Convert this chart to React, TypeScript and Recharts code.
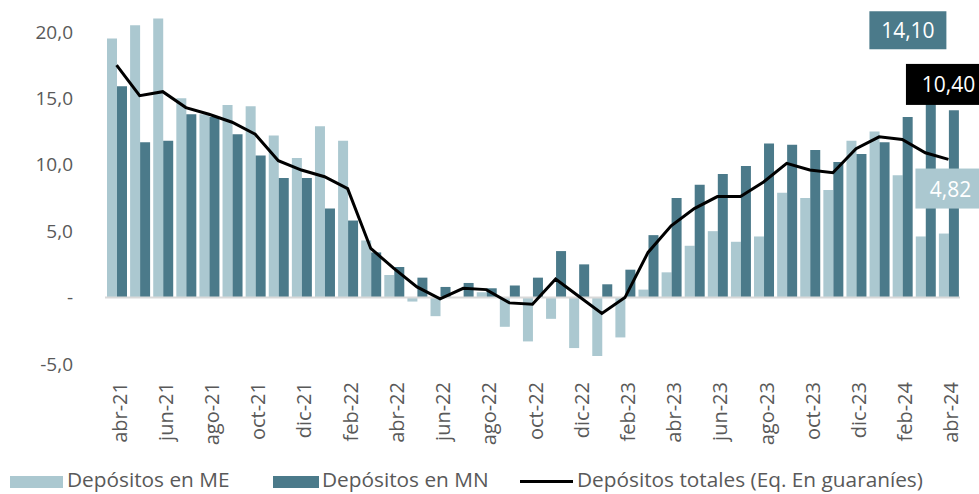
import React from "react";
import {
  ComposedChart,
  Bar,
  Line,
  XAxis,
  YAxis,
  ReferenceLine,
  LabelList,
  Legend,
} from "recharts";

const months = [
  "abr-21", "may-21", "jun-21", "jul-21", "ago-21", "sep-21", "oct-21", "nov-21", "dic-21",
  "ene-22", "feb-22", "mar-22", "abr-22", "may-22", "jun-22", "jul-22", "ago-22", "sep-22",
  "oct-22", "nov-22", "dic-22", "ene-23", "feb-23", "mar-23", "abr-23", "may-23", "jun-23",
  "jul-23", "ago-23", "sep-23", "oct-23", "nov-23", "dic-23", "ene-24", "feb-24", "mar-24",
  "abr-24",
];

// Depósitos en moneda extranjera
const depME = [
  19.5, 20.5, 21.0, 15.0, 13.8, 14.5, 14.4, 12.2, 10.5, 12.9, 11.8, 4.3, 1.7, -0.3, -1.4, 0.0,
  0.4, -2.2, -3.3, -1.6, -3.8, -4.4, -3.0, 0.6, 1.9, 3.9, 5.0, 4.2, 4.6, 7.9, 7.5, 8.1, 11.8,
  12.5, 9.2, 4.6, 4.82,
];

// Depósitos en moneda nacional
const depMN = [
  15.9, 11.7, 11.8, 13.8, 13.6, 12.3, 10.7, 9.0, 9.0, 6.7, 5.8, 3.4, 2.3, 1.5, 0.8, 1.1, 0.7,
  0.9, 1.5, 3.5, 2.5, 1.0, 2.1, 4.7, 7.5, 8.5, 9.3, 9.9, 11.6, 11.5, 11.1, 10.2, 10.8, 11.7,
  13.6, 15.2, 14.1,
];

// Depósitos totales (Eq. En guaraníes)
const depTotal = [
  17.5, 15.2, 15.5, 14.3, 13.8, 13.2, 12.3, 10.3, 9.6, 9.1, 8.2, 3.7, 2.2, 0.8, -0.1, 0.7, 0.6,
  -0.4, -0.5, 1.4, 0.1, -1.2, 0.0, 3.4, 5.4, 6.7, 7.6, 7.6, 8.7, 10.1, 9.6, 9.4, 11.2, 12.1,
  11.9, 10.9, 10.4,
];

const yTicks = [-5, 0, 5, 10, 15, 20];

const COLORS = {
  me: "#abc8d0",
  mn: "#4b7a8a",
  total: "#000000",
  text: "#595959",
};

const FONT = "'Open Sans', sans-serif";
const LAST = months.length - 1;

const data = months.map((m, i) => ({
  mes: m,
  me: depME[i],
  mn: depMN[i],
  total: depTotal[i],
}));

const fmt = (v: number) => (v === 0 ? "-" : v.toFixed(1).replace(".", ","));
const fmt2 = (v: number) => v.toFixed(2).replace(".", ",");

// box label only on the last point
const boxLabel =
  (fill: string, w: number, h: number, dx: number, dy: number) => (props: any) => {
    const { x, y, width, value, index } = props;
    if (index !== LAST) return null;
    const cx = Number(x) + (width ? Number(width) / 2 : 0) + dx;
    const cy = Number(y) + dy;
    return (
      <g>
        <rect x={cx - w / 2} y={cy - h / 2} width={w} height={h} fill={fill} />
        <text
          x={cx}
          y={cy}
          fill="#ffffff"
          fontSize={21}
          fontFamily={FONT}
          textAnchor="middle"
          dominantBaseline="central"
        >
          {fmt2(Number(value))}
        </text>
      </g>
    );
  };

// rotated month labels
const MonthTick = (props: any) => {
  const { x, y, payload } = props;
  const tx = x + 10;
  const ty = y + 10;
  return (
    <text
      x={tx}
      y={ty}
      transform={`rotate(-90, ${tx}, ${ty})`}
      textAnchor="end"
      fontSize={20}
      fill={COLORS.text}
      fontFamily={FONT}
    >
      {payload.value}
    </text>
  );
};

const CustomLegend = () => (
  <div style={{ position: "relative", height: 30, fontFamily: FONT, fontSize: 20.8, color: COLORS.text }}>
    <div style={{ position: "absolute", left: 10, top: 12, width: 53, height: 12, background: COLORS.me }} />
    <div style={{ position: "absolute", left: 67, top: 1, whiteSpace: "nowrap" }}>Depósitos en ME</div>
    <div style={{ position: "absolute", left: 273, top: 12, width: 46, height: 12, background: COLORS.mn }} />
    <div style={{ position: "absolute", left: 322, top: 1, whiteSpace: "nowrap" }}>Depósitos en MN</div>
    <div style={{ position: "absolute", left: 520, top: 16, width: 53, height: 3, background: COLORS.total }} />
    <div style={{ position: "absolute", left: 577, top: 1, whiteSpace: "nowrap" }}>
      Depósitos totales (Eq. En guaraníes)
    </div>
  </div>
);

export default function App() {
  return (
    <div style={{ position: "fixed", left: 0, top: 0, width: 979, height: 494, background: "#fff" }}>
      <ComposedChart
        width={979}
        height={494}
        data={data}
        margin={{ top: 0, right: 19, bottom: 0, left: 0 }}
        barCategoryGap={2}
        barGap={0}
      >
        <XAxis
          dataKey="mes"
          interval={1}
          axisLine={false}
          tickLine={false}
          height={100}
          tick={<MonthTick />}
        />
        <YAxis
          domain={[-5, 22.4]}
          ticks={yTicks}
          allowDataOverflow
          width={105}
          axisLine={false}
          tickLine={false}
          tickMargin={26}
          tickFormatter={fmt}
          tick={{ fontSize: 19, fill: COLORS.text, fontFamily: FONT }}
        />
        <Legend verticalAlign="bottom" height={30} content={<CustomLegend />} />
        <ReferenceLine y={0} stroke="#d9d9d9" strokeWidth={2} />
        <Bar dataKey="me" name="Depósitos en ME" fill={COLORS.me} isAnimationActive={false} />
        <Bar dataKey="mn" name="Depósitos en MN" fill={COLORS.mn} isAnimationActive={false}>
          <LabelList dataKey="mn" content={boxLabel(COLORS.mn, 77, 38, -46, -80)} />
        </Bar>
        <Line
          type="linear"
          dataKey="total"
          name="Depósitos totales (Eq. En guaraníes)"
          stroke={COLORS.total}
          strokeWidth={3}
          dot={false}
          isAnimationActive={false}
        >
          <LabelList dataKey="total" content={boxLabel(COLORS.total, 85, 41, 0, -75)} />
        </Line>
        {/* invisible carrier so the ME label sits above the MN bars */}
        <Line
          type="linear"
          dataKey="me"
          legendType="none"
          stroke="none"
          dot={false}
          activeDot={false}
          isAnimationActive={false}
        >
          <LabelList dataKey="me" content={boxLabel(COLORS.me, 70, 40, 2, -45)} />
        </Line>
      </ComposedChart>
    </div>
  );
}
